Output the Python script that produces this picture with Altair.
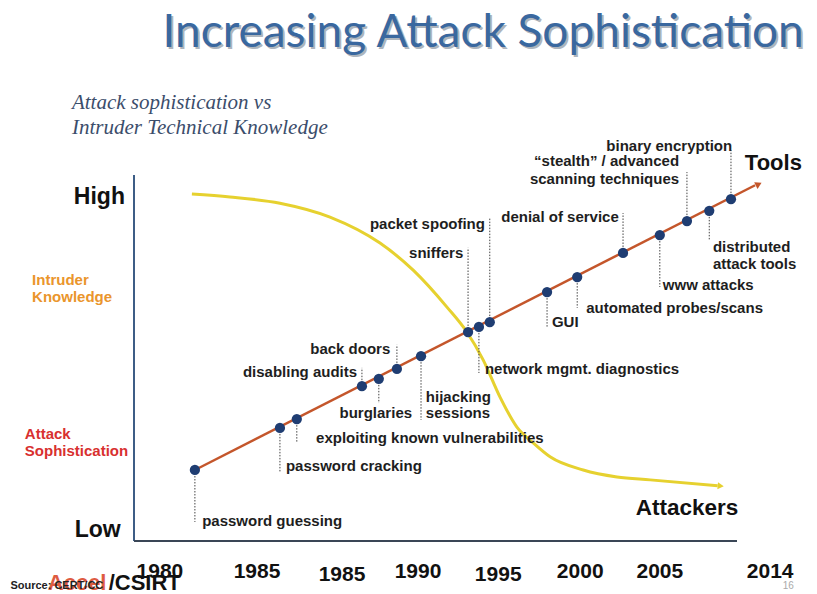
import altair as alt
import pandas as pd

# ---------------- data (abstract units: timeline 0-100, level 0-100) ----------------
event_names = [
    "password guessing", "password cracking", "exploiting known vulnerabilities",
    "disabling audits", "burglaries", "back doors", "hijacking sessions", "sniffers",
    "network mgmt. diagnostics", "packet spoofing", "GUI", "automated probes/scans",
    "denial of service", "www attacks", "stealth / advanced scanning techniques",
    "distributed attack tools", "binary encryption",
]
event_x = [10.1, 24.2, 27.0, 37.8, 40.6, 43.6, 47.6, 55.4, 57.2, 59.0, 68.5, 73.5, 81.1, 87.2, 91.7, 95.4, 99.0]
event_y = [19.4, 30.9, 33.3, 42.3, 44.3, 47.0, 50.5, 57.1, 58.5, 59.8, 68.0, 72.1, 78.7, 83.6, 87.4, 90.2, 93.4]
leader_end_y = [5.2, 18.9, 26.8, 47.3, 37.7, 53.6, 33.1, 80.1, 45.9, 88.3, 58.5, 63.7, 89.6, 69.4, 100.8, 82.2, 106.8]

# label lines: text, x, y, alignment
label_text = [
    "password guessing", "password cracking", "exploiting known vulnerabilities",
    "disabling audits", "burglaries", "back doors", "hijacking", "sessions",
    "sniffers", "network mgmt. diagnostics", "packet spoofing", "GUI",
    "automated probes/scans", "denial of service", "www attacks",
    "\u201cstealth\u201d / advanced", "scanning techniques",
    "distributed", "attack tools", "binary encryption",
]
label_x = [11.3, 25.2, 30.2, 37.0, 40.1, 42.5, 48.4, 48.4, 54.6, 58.2, 58.2, 69.3,
           75.0, 80.4, 87.7, 90.4, 90.4, 96.0, 96.0, 99.2]
label_y = [5.5, 20.5, 28.1, 46.2, 35.0, 52.5, 39.3, 35.0, 78.7, 47.0, 86.6, 59.8,
           63.7, 88.5, 69.9, 103.8, 98.9, 80.3, 75.7, 107.9]
label_align = ["left", "left", "left", "right", "center", "right", "left", "left",
               "right", "left", "right", "left", "left", "right", "left",
               "right", "right", "left", "left", "right"]

tools_x = [10.1, 103.0]
tools_y = [19.4, 97.2]
tools_tip = (103.6, 97.5)

attackers_x = [9.6, 15.9, 24.2, 32.5, 40.8, 46.3, 51.9, 55.2, 57.9, 60.7, 63.5, 66.2, 69.0, 74.5, 80.1, 85.6, 96.8]
attackers_y = [94.8, 94.0, 92.3, 88.5, 81.4, 74.0, 63.9, 57.1, 49.5, 39.3, 31.1, 26.8, 23.0, 19.4, 17.5, 16.7, 15.1]
attackers_tip = (97.3, 15.0)

x_tick_labels = ["1980", "1985", "1985", "1990", "1995", "2000", "2005", "2014"]
x_tick_pos = [4.3, 20.4, 34.5, 47.1, 60.4, 74.0, 87.2, 105.5]
x_tick_y = [-8.5, -8.5, -9.3, -8.5, -9.3, -8.5, -8.5, -8.5]

# ---------------- layout (styles) ----------------
W, H = 801, 586
PX_X, PX_Y = 6.03, 3.66
X0, Y0 = 126, 533  # chart px of origin
XMIN = -X0 / PX_X
XMAX = XMIN + W / PX_X
YMAX = Y0 / PX_Y
YMIN = YMAX - H / PX_Y

xs = alt.Scale(domain=[XMIN, XMAX], nice=False, zero=False)
ys = alt.Scale(domain=[YMIN, YMAX], nice=False, zero=False)

FONT = "Liberation Sans"


def X(f="x"):
    return alt.X(f"{f}:Q", scale=xs, axis=None)


def Y(f="y"):
    return alt.Y(f"{f}:Q", scale=ys, axis=None)


def txt(df, **kw):
    base = dict(font=FONT, baseline="middle")
    base.update(kw)
    return alt.Chart(df).mark_text(**base).encode(x=X(), y=Y(), text="t:N")


# axes
vaxis = alt.Chart(pd.DataFrame({"x": [0], "y": [0], "y2": [100]})).mark_rule(
    color="#3d5d86", strokeWidth=2).encode(x=X(), y=Y(), y2="y2:Q")
haxis = alt.Chart(pd.DataFrame({"x": [0], "x2": [100], "y": [0]})).mark_rule(
    color="#3a4656", strokeWidth=2).encode(x=X(), x2="x2:Q", y=Y())

# tools trend line
tools_df = pd.DataFrame({"x": tools_x, "y": tools_y})
tools_line = alt.Chart(tools_df).mark_line(color="#c4562b", strokeWidth=2.5).encode(x=X(), y=Y())
tools_head = alt.Chart(pd.DataFrame({"x": [tools_tip[0]], "y": [tools_tip[1]]})).mark_point(
    shape="triangle-right", filled=True, size=55, angle=333, color="#c4562b", opacity=1).encode(x=X(), y=Y())

# attackers curve
att_df = pd.DataFrame({"x": attackers_x, "y": attackers_y, "o": list(range(len(attackers_x)))})
att_line = alt.Chart(att_df).mark_line(color="#e6d12f", strokeWidth=3, interpolate="monotone").encode(
    x=X(), y=Y(), order="o:Q")
att_head = alt.Chart(pd.DataFrame({"x": [attackers_tip[0]], "y": [attackers_tip[1]]})).mark_point(
    shape="triangle-right", filled=True, size=50, angle=5, color="#e6d12f", opacity=1).encode(x=X(), y=Y())

# leaders and dots
ev_df = pd.DataFrame({"name": event_names, "x": event_x, "y": event_y, "y2": leader_end_y})
leaders = alt.Chart(ev_df).mark_rule(color="#444444", strokeWidth=1, strokeDash=[1.5, 1.5]).encode(
    x=X(), y=Y(), y2="y2:Q")
dots = alt.Chart(ev_df).mark_circle(size=105, color="#1f3d72", opacity=1).encode(x=X(), y=Y())

lab_df = pd.DataFrame({"t": label_text, "x": label_x, "y": label_y, "a": label_align})
lab_layers = [
    txt(lab_df[lab_df.a == a], align=a, fontSize=15, fontWeight="bold", color="#1e1e1e")
    for a in ["left", "right", "center"]
]

# big labels
tools_lbl = txt(pd.DataFrame({"t": ["Tools"], "x": [101.3], "y": [103.3]}),
                align="left", fontSize=22, fontWeight="bold", color="#111111")
att_lbl = txt(pd.DataFrame({"t": ["Attackers"], "x": [91.7], "y": [9.0]}),
              align="center", fontSize=22.5, fontWeight="bold", color="#111111")
hilo = txt(pd.DataFrame({"t": ["High", "Low"], "x": [-1.5, -2.2], "y": [94.0, 3.0]}),
           align="right", fontSize=23, fontWeight="bold", color="#111111")
intr = txt(pd.DataFrame({"t": ["Intruder", "Knowledge"], "x": [-16.9, -16.9], "y": [71.3, 66.7]}),
           align="left", fontSize=15, fontWeight="bold", color="#ea952c")
soph = txt(pd.DataFrame({"t": ["Attack", "Sophistication"], "x": [-18.1, -18.1], "y": [29.2, 24.6]}),
           align="left", fontSize=15, fontWeight="bold", color="#d8302f")

subtitle = txt(pd.DataFrame({"t": ["Attack sophistication vs", "Intruder Technical Knowledge"],
                             "x": [-10.3, -10.3], "y": [119.7, 112.8]}),
               align="left", font="Liberation Serif", fontStyle="italic", fontSize=21, color="#3b4d6b")

title_df = pd.DataFrame({"t": ["Increasing Attack Sophistication"], "x": [57.9], "y": [135.0]})
title_shadow = txt(title_df, align="center", baseline="alphabetic", font="Lato", fontSize=46,
                   color="#9aa3ad", dx=2, dy=2, opacity=0.8)
title = txt(title_df, align="center", baseline="alphabetic", font="Lato", fontSize=46, color="#3a689f")

ticks_df = pd.DataFrame({"t": x_tick_labels, "x": x_tick_pos, "y": x_tick_y})
ticks = txt(ticks_df, align="center", fontSize=21, fontWeight="bold", color="#111111")

source = txt(pd.DataFrame({"t": ["Source: CERT/CC"], "x": [-20.5], "y": [-12.3]}),
             align="left", fontSize=11, fontWeight="bold", color="#222222")
accel = txt(pd.DataFrame({"t": ["Accel"], "x": [-14.3], "y": [-11.6]}),
            align="left", fontSize=22, fontWeight="bold", color="#d9401f", opacity=0.85)
csirt = txt(pd.DataFrame({"t": ["/CSIRT"], "x": [-4.2], "y": [-11.6]}),
            align="left", fontSize=22, fontWeight="bold", color="#111111")
page = txt(pd.DataFrame({"t": ["16"], "x": [108.5], "y": [-12.3]}),
           align="center", fontSize=10, color="#aaaaaa")

chart = alt.layer(
    vaxis, haxis, tools_line, tools_head, att_line, att_head, leaders, dots,
    *lab_layers, tools_lbl, att_lbl, hilo, intr, soph, subtitle, title_shadow, title,
    ticks, accel, source, csirt, page,
).properties(
    width=W, height=H, autosize=alt.AutoSizeParams(type="none"), padding=0,
    background="white",
).configure_view(stroke=None)

chart.save("out.html", embed_options={"renderer": "svg", "actions": False})
